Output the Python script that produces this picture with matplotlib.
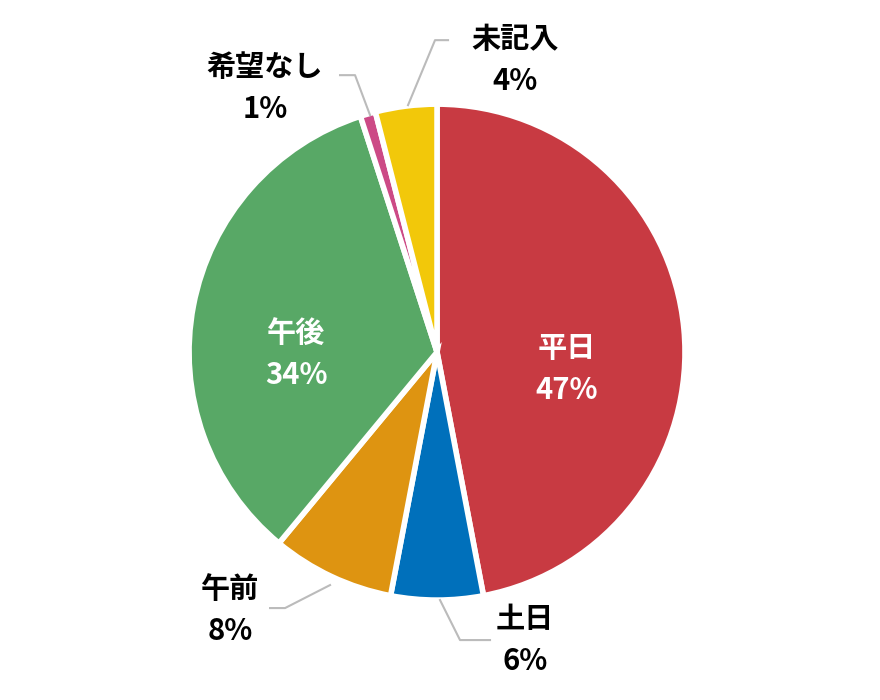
import matplotlib
matplotlib.use("Agg")
import matplotlib.pyplot as plt

labels = ["平日", "土日", "午前", "午後", "希望なし", "未記入"]
values = [47, 6, 8, 34, 1, 4]
colors = ["#c83a42", "#0070bb", "#de9411", "#58a866", "#cc4a86", "#f2c80a"]

plt.rcParams['font.family'] = ['Noto Sans CJK JP', 'DejaVu Sans']
fig = plt.figure(figsize=(8.8, 7.0), dpi=100)
ax = fig.add_axes([0, 0, 1, 1])
ax.pie(values, colors=colors, startangle=90, counterclock=False, radius=1,
       wedgeprops=dict(edgecolor="white", linewidth=4))
ax.set_xlim(-1.762, 1.786)
ax.set_ylim(-1.403, 1.42)
ax.set_aspect("equal")
ax.axis("off")

def px(x, y):
    return ((x - 437) / 248, (352 - y) / 248)

fs = 21
inside = {0: (567, 369), 3: (296, 354)}
for i, (x, y) in inside.items():
    ax.text(*px(x, y), f"{labels[i]}\n{values[i]}%", color="white", ha="center",
            va="center", fontsize=fs, fontweight="bold", linespacing=1.5)

outside = {
    5: ((515, 60), [(408, 105), (435, 40), (448, 40)]),
    4: ((265, 88), [(370, 115), (355, 75), (340, 75)]),
    2: ((230, 610), [(330, 585), (285, 608), (270, 608)]),
    1: ((525, 640), [(440, 600), (460, 640), (490, 640)]),
}
for i, ((x, y), pts) in outside.items():
    xs, ys = zip(*[px(a, b) for a, b in pts])
    ax.plot(xs, ys, color="#bbbbbb", lw=1.5)
    ax.text(*px(x, y), f"{labels[i]}\n{values[i]}%", color="black", ha="center",
            va="center", fontsize=fs, fontweight="bold", linespacing=1.5)

fig.savefig("out.png", dpi=100)
